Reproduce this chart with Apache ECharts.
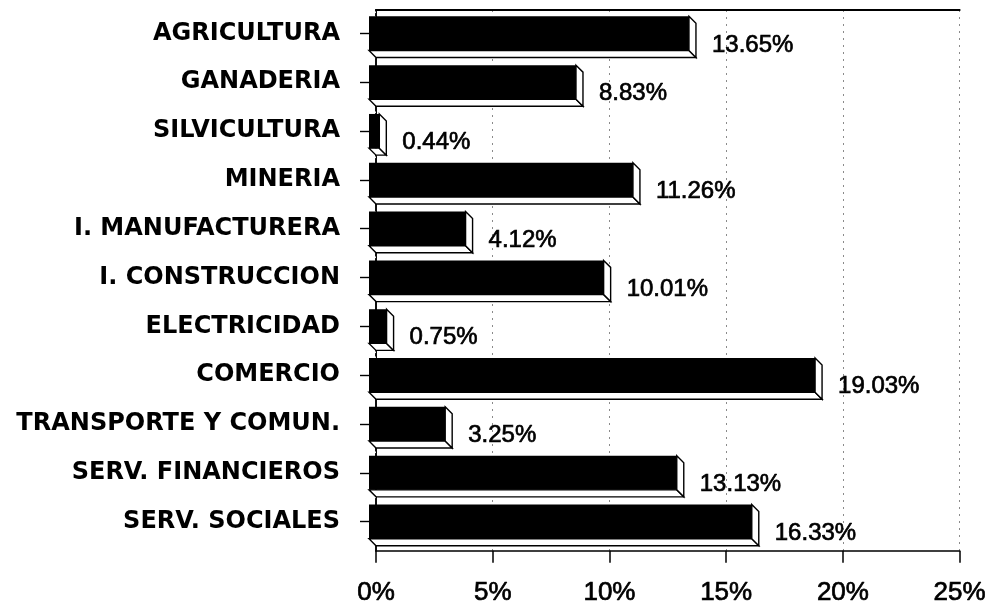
<!DOCTYPE html>
<html>
<head>
<meta charset="utf-8">
<script src="https://cdn.jsdelivr.net/npm/echarts@6/dist/echarts.min.js"></script>
<style>
  html, body { margin: 0; padding: 0; background: #fff; }
  #chart { width: 989px; height: 606px; }
</style>
</head>
<body>
<div id="chart"></div>
<script>
// Sectors and their share (%)
const categories = [
  'AGRICULTURA', 'GANADERIA', 'SILVICULTURA', 'MINERIA', 'I. MANUFACTURERA',
  'I. CONSTRUCCION', 'ELECTRICIDAD', 'COMERCIO', 'TRANSPORTE Y COMUN.',
  'SERV. FINANCIEROS', 'SERV. SOCIALES'
];
const shares = [13.65, 8.83, 0.44, 11.26, 4.12, 10.01, 0.75, 19.03, 3.25, 13.13, 16.33];

// Percentage scale
const axisMin = 0;
const axisMax = 25;
const axisStep = 5;

const DEPTH = 7; // extrusion of the 3D bars

function renderBar(params, api) {
  const idx = api.value(1);
  const v = api.value(0);
  const p0 = api.coord([0, idx]);
  const p1 = api.coord([v, idx]);
  const h = api.size([0, 1])[1] * 0.7;
  const x0 = p0[0], x1 = p1[0];
  const cy = p0[1];
  const y0 = cy - h / 2, y1 = cy + h / 2;
  const d = DEPTH;
  const edge = { fill: '#fff', stroke: '#000', lineWidth: 1.4 };
  return {
    type: 'group',
    children: [
      { type: 'polygon', shape: { points: [[x0, y1], [x1, y1], [x1 + d, y1 + d], [x0 + d, y1 + d]] }, style: edge },
      { type: 'polygon', shape: { points: [[x1, y0], [x1 + d, y0 + d], [x1 + d, y1 + d], [x1, y1]] }, style: edge },
      { type: 'rect', shape: { x: x0, y: y0, width: x1 - x0, height: h }, style: { fill: '#000' } },
      {
        type: 'text',
        x: x1 + 23, y: cy + 11.5,
        style: {
          text: v.toFixed(2) + '%',
          fill: '#000',
          stroke: '#000',
          lineWidth: 0.7,
          font: '24px "Liberation Sans", Arial, sans-serif',
          textAlign: 'left', textVerticalAlign: 'middle'
        }
      }
    ]
  };
}

const chart = echarts.init(document.getElementById('chart'), null, { renderer: 'canvas' });

chart.setOption({
  animation: false,
  backgroundColor: '#fff',
  grid: [
    // back wall frame
    { left: 376, right: 27, top: 10, bottom: 53 },
    // front plane of the bars
    { left: 369, right: 34, top: 9, bottom: 60 }
  ],
  xAxis: [
    {
      gridIndex: 0, type: 'value', min: axisMin, max: axisMax, interval: axisStep, position: 'bottom',
      axisLine: { show: true, lineStyle: { color: '#000', width: 1.5 } },
      axisTick: { show: true, length: 12, lineStyle: { color: '#000', width: 1.5 } },
      axisLabel: {
        formatter: '{value}%', fontSize: 26, color: '#000', margin: 29,
        fontFamily: '"Liberation Sans", Arial, sans-serif',
        textBorderColor: '#000', textBorderWidth: 0.7
      },
      splitLine: { show: true, lineStyle: { type: [2, 5], color: '#8a8a8a', width: 1 } }
    },
    {
      gridIndex: 0, type: 'value', min: axisMin, max: axisMax, position: 'top',
      axisLine: { show: true, lineStyle: { color: '#000', width: 2 } },
      axisTick: { show: false }, axisLabel: { show: false }, splitLine: { show: false }
    },
    { gridIndex: 1, type: 'value', min: axisMin, max: axisMax, show: false }
  ],
  yAxis: [
    {
      gridIndex: 0, type: 'category', data: categories, position: 'left',
      axisLine: { show: true, lineStyle: { color: '#000', width: 1 } },
      axisTick: { show: false }, axisLabel: { show: false }, splitLine: { show: false }
    },
    {
      gridIndex: 0, type: 'value', min: 0, max: 1, position: 'right',
      axisLine: { show: true, lineStyle: { color: '#111', width: 2, type: [12, 3, 2, 3] } },
      axisTick: { show: false }, axisLabel: { show: false }, splitLine: { show: false }
    },
    {
      gridIndex: 1, type: 'category', data: categories, inverse: true,
      axisLine: { show: false },
      axisTick: { show: true, alignWithLabel: true, length: 9, lineStyle: { color: '#000', width: 1.4 } },
      axisLabel: {
        fontSize: 24, fontWeight: 'bold', color: '#000', margin: 29,
        fontFamily: '"DejaVu Sans", sans-serif', padding: [4, 0, 0, 0]
      },
      splitLine: { show: false }
    }
  ],
  series: [
    {
      type: 'custom',
      xAxisIndex: 2,
      yAxisIndex: 2,
      renderItem: renderBar,
      encode: { x: 0, y: 1 },
      data: shares.map((v, i) => [v, i]),
      z: 5
    }
  ]
});
</script>
</body>
</html>
